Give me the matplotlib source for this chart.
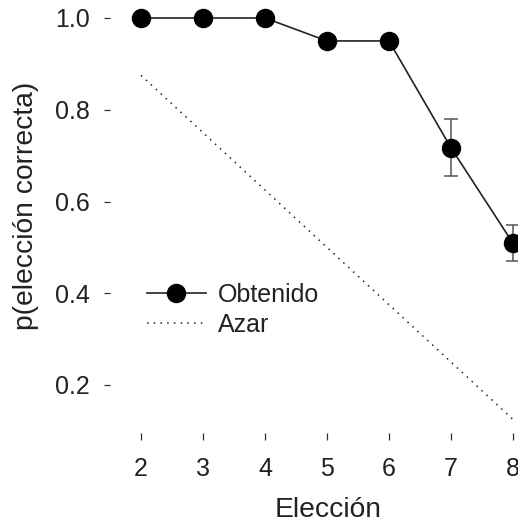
import matplotlib
matplotlib.use("Agg")
import matplotlib.pyplot as plt

plt.rcParams['font.family'] = ['Liberation Sans', 'DejaVu Sans']

elecciones = [2, 3, 4, 5, 6, 7, 8]
obtenido = [1.0, 1.0, 1.0, 0.95, 0.95, 0.717, 0.509]
errores = [0, 0, 0, 0, 0, 0.062, 0.039]
azar = [0.875, 0.75, 0.625, 0.5, 0.375, 0.25, 0.125]
xticks = [2, 3, 4, 5, 6, 7, 8]
yticks = [0.2, 0.4, 0.6, 0.8, 1.0]
ytick_labels = ["0.2", "0.4", "0.6", "0.8", "1.0"]

W, H = 518, 524
fig = plt.figure(figsize=(W / 100, H / 100), dpi=100)
fig.patch.set_facecolor('white')

# axes pixel box
ax_l, ax_r, ax_t, ax_b = 120, 518, 0, 425
ax = fig.add_axes([ax_l / W, 1 - ax_b / H, (ax_r - ax_l) / W, (ax_b - ax_t) / H])

# scales: x=2 at px 141, 62 px/unit ; y=1.0 at px 18, 458.75 px/unit
px_x, x0 = 62.0, 141.0
px_y, y0 = 458.75, 18.0
ax.set_xlim(2 + (ax_l - x0) / px_x, 2 + (ax_r - x0) / px_x)
ax.set_ylim(1 - (ax_b - y0) / px_y, 1 + (y0 - ax_t) / px_y)

ax.plot(elecciones, azar, color='#222222', lw=1.1, linestyle=(0, (1, 3.4)),
        label='Azar', zorder=2)
ax.errorbar(elecciones, obtenido, yerr=errores, fmt='none', ecolor='#555555',
            elinewidth=1.1, capsize=4.7, capthick=1.1, zorder=3)
ax.plot(elecciones, obtenido, color='#222222', lw=1.2, marker='o',
        markersize=13, markerfacecolor='black', markeredgecolor='black',
        label='Obtenido', zorder=4)

for s in ax.spines.values():
    s.set_visible(False)
ax.spines['left'].set_position(('outward', 7))
ax.spines['bottom'].set_position(('outward', 6))

ax.set_xticks(xticks)
ax.set_xticklabels([str(v) for v in xticks])
ax.set_yticks(yticks)
ax.set_yticklabels(ytick_labels)
ax.tick_params(axis='y', length=4.5, width=0.9, color='#333333', pad=10,
               labelsize=18, labelcolor='#222222')
ax.tick_params(axis='x', length=5, width=0.9, color='#333333', pad=12,
               labelsize=18, labelcolor='#222222')
ax.set_facecolor('white')

handles, labels = ax.get_legend_handles_labels()
order = [labels.index('Obtenido'), labels.index('Azar')]
leg = ax.legend([handles[i] for i in order], [labels[i] for i in order],
                loc='upper left', bbox_to_anchor=(147 / W, 1 - 283 / H),
                bbox_transform=fig.transFigure, frameon=False, fontsize=18,
                handlelength=2.35, handletextpad=0.5, labelspacing=0.22,
                borderpad=0, borderaxespad=0)
for t in leg.get_texts():
    t.set_color('#222222')

fig.text(328 / W, 1 - 517 / H, 'Elección', ha='center', va='baseline',
         fontsize=20.3, color='#222222')
fig.text(26 / W, 1 - 206 / H, 'p(elección correcta)', ha='center', va='center',
         rotation=90, fontsize=20.3, color='#222222')

fig.savefig('out.png', dpi=100, facecolor='white')
